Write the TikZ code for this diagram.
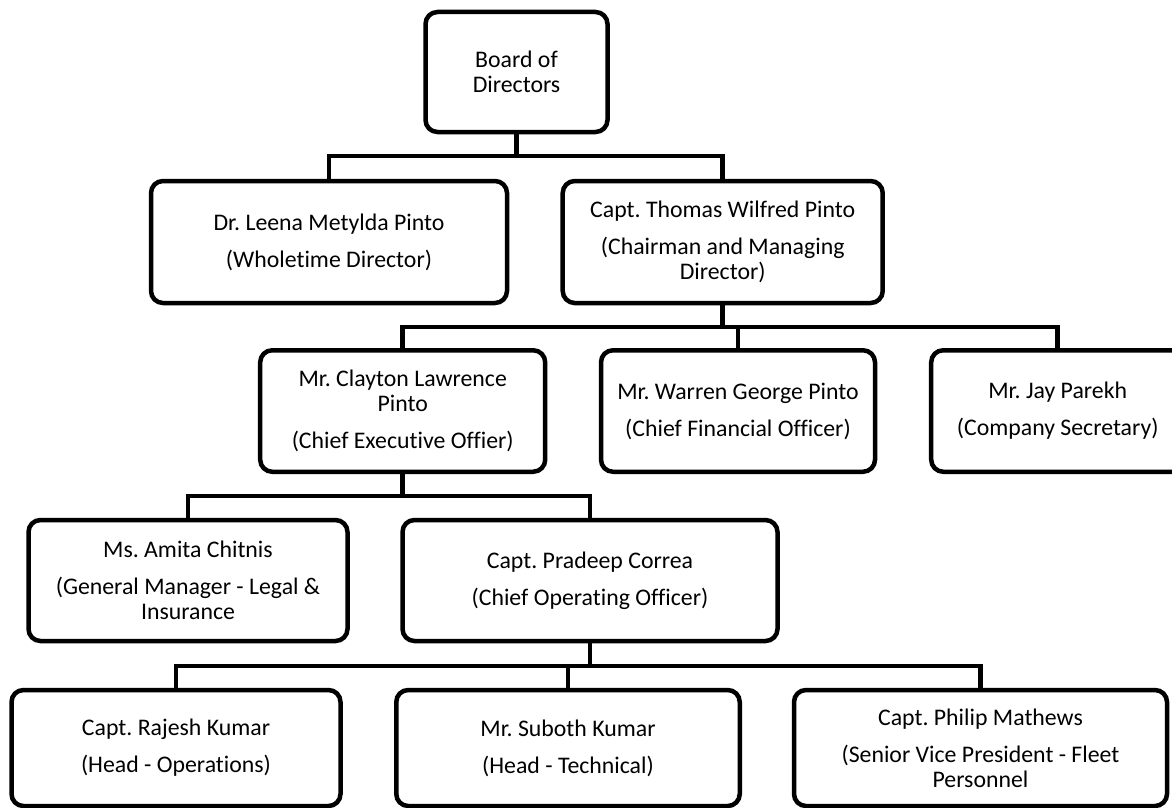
\documentclass[tikz,border=0pt]{standalone}
\usepackage{fontspec}
\setmainfont{Carlito}[Ligatures=NoCommon]
\begin{document}
\frenchspacing
\begin{tikzpicture}[x=1pt,y=-1pt,
  box/.style={draw=black, line width=4.5pt, rounded corners=12pt, fill=white,
    align=center, inner sep=0pt,
    font=\fontsize{23.8}{25}\selectfont\frenchspacing},
  conn/.style={draw=black, line width=4.5pt}]
\useasboundingbox (0,0) rectangle (1172,808);
% boxes
\node[box, minimum width=182pt, minimum height=120pt] (board) at (516.5,72) {Board of\\Directors};
\node[box, minimum width=356pt, minimum height=122pt] (leena) at (329,242) {Dr. Leena Metylda Pinto\\[12pt](Wholetime Director)};
\node[box, minimum width=320pt, minimum height=122pt] (thomas) at (722.7,242) {Capt. Thomas Wilfred Pinto\\[12pt](Chairman and Managing\\Director)};
\node[box, minimum width=285pt, minimum height=121.5pt] (clayton) at (402.7,411) {Mr. Clayton Lawrence\\Pinto\\[12pt](Chief Executive Offier)};
\node[box, minimum width=274pt, minimum height=121.5pt] (warren) at (738,411) {Mr. Warren George Pinto\\[12pt](Chief Financial Officer)};
\node[box, minimum width=253pt, minimum height=121.5pt] (jay) at (1057.7,411) {Mr. Jay Parekh\\[12pt](Company Secretary)};
\node[box, minimum width=319pt, minimum height=121pt] (amita) at (188,580.5) {Ms. Amita Chitnis\\[12pt](General Manager - Legal \&\\Insurance};
\node[box, minimum width=375pt, minimum height=121pt] (pradeep) at (590,580.5) {Capt. Pradeep Correa\\[12pt](Chief Operating Officer)};
\node[box, minimum width=329pt, minimum height=116pt] (rajesh) at (176,748) {Capt. Rajesh Kumar\\[12pt](Head - Operations)};
\node[box, minimum width=343.5pt, minimum height=116pt] (suboth) at (568,748) {Mr. Suboth Kumar\\[12pt](Head - Technical)};
\node[box, minimum width=373pt, minimum height=116pt] (philip) at (980.5,748) {Capt. Philip Mathews\\[12pt](Senior Vice President - Fleet\\Personnel};
% junctions
\coordinate (j1) at (516.5,156);
\coordinate (j2) at (722.7,327);
\coordinate (j3) at (402.7,496);
\coordinate (j4) at (590,666);
% connectors
\draw[conn] (board.south) -- (j1);
\draw[conn] (leena.north) |- (j1) -| (thomas.north);
\draw[conn] (thomas.south) -- (j2);
\draw[conn] (clayton.north) |- (j2) -| (jay.north);
\draw[conn] (warren.north) -- (warren.north |- j2);
\draw[conn] (clayton.south) -- (j3);
\draw[conn] (amita.north) |- (j3) -| (pradeep.north);
\draw[conn] (pradeep.south) -- (j4);
\draw[conn] (rajesh.north) |- (j4) -| (philip.north);
\draw[conn] (suboth.north) -- (suboth.north |- j4);
\end{tikzpicture}
\end{document}
